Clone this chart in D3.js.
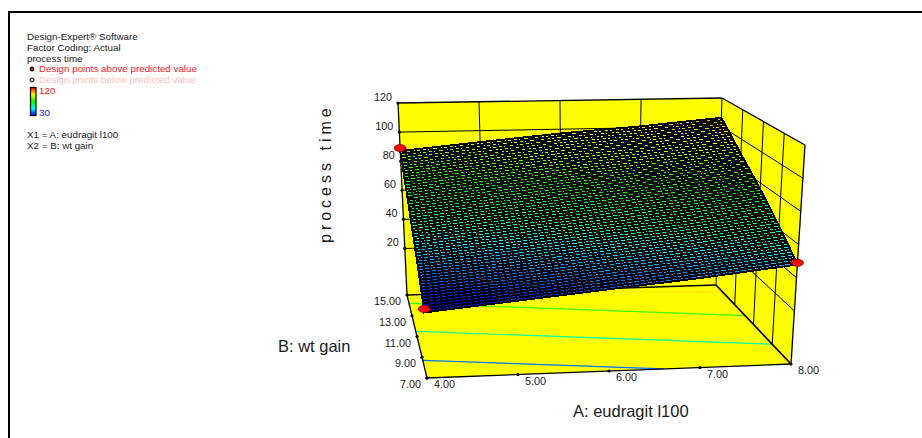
<!DOCTYPE html>
<html>
<head>
<meta charset="utf-8">
<script src="https://cdn.jsdelivr.net/npm/d3@7"></script>
<style>
	html, body { margin: 0; padding: 0; background: #fff; }
	svg { display: block; }
	text { font-family: "Liberation Sans", Arial, sans-serif; fill: #1a1a1a; }
</style>
</head>
<body>
<svg id="chart" width="922" height="438"></svg>
<script>
// factor levels and response ticks
const aTicks = [4, 5, 6, 7, 8];
const bTicks = [7, 9, 11, 13, 15];
const zTicks = [20, 40, 60, 80, 100, 120];

// process time, rows = wt gain, columns = eudragit l100
const surfaceValues = [
	[27, 32, 37, 42, 48],
	[42, 46, 51, 56, 62],
	[56, 61, 66, 71, 76],
	[71, 76, 81, 85, 90],
	[87, 92, 97, 101, 106]
];

// design points visible on the surface [A, B, process time]
const designPoints = [[4, 15, 89], [8, 7, 49], [4, 7, 29]];

// contour lines on the floor of the cube
const contourLevels = [40, 60, 80, 100];
const contourLines = [
	[[4, 8.7], [6.6, 7]],
	[[4, 11.5], [8, 9]],
	[[4, 14.2], [8, 11.9]],
	[[6.5, 14.7], [8, 14.3]]
];

const headerLines = ["Design-Expert® Software", "Factor Coding: Actual", "process time"];
const factorLines = ["X1 = A: eudragit l100", "X2 = B: wt gain"];

const svg = d3.select("#chart");

// frame, only top and left are inside the window
svg.append("rect").attr("x", 9).attr("y", 12).attr("width", 1000).attr("height", 1000)
	.attr("fill", "none").attr("stroke", "#000").attr("stroke-width", 2);

// cube corners on screen, the axes are mapped between these
const floorCorners = { a4b7: [427, 378], a8b7: [791, 364], a4b15: [407, 295], a8b15: [716, 285] };
const topCorners = { a4b7: [418, 156], a8b7: [805, 145], a4b15: [398, 103], a8b15: [722, 98] };

const aScale = d3.scaleLinear().domain([4, 8]).range([0, 1]);
const bScale = d3.scaleLinear().domain([7, 15]).range([0, 1]);
const zScale = d3.scaleLinear().domain([-12, 120]).range([0, 1]);

function corner(set, u, v) {
	const front = d3.interpolate(set.a4b7, set.a8b7)(u);
	const back = d3.interpolate(set.a4b15, set.a8b15)(u);
	return d3.interpolate(front, back)(v);
}

function project(a, b, z) {
	const u = aScale(a), v = bScale(b);
	return d3.interpolate(corner(floorCorners, u, v), corner(topCorners, u, v))(zScale(z));
}

const colour = d3.scaleLinear()
	.domain([30, 52.5, 75, 97.5, 120])
	.range(["#0000ff", "#00ffff", "#00ff00", "#ffff00", "#ff0000"])
	.clamp(true);

const zMin = zScale.domain()[0], zMax = zScale.domain()[1];
const aMin = 4, aMax = 8, bMin = 7, bMax = 15;

// walls and floor
const walls = svg.append("g");
const wallPolys = [
	[project(aMin, bMax, zMin), project(aMax, bMax, zMin), project(aMax, bMax, zMax), project(aMin, bMax, zMax)],
	[project(aMax, bMax, zMin), project(aMax, bMin, zMin), project(aMax, bMin, zMax), project(aMax, bMax, zMax)],
	[project(aMin, bMin, zMin), project(aMax, bMin, zMin), project(aMax, bMax, zMin), project(aMin, bMax, zMin)]
];
walls.selectAll("polygon").data(wallPolys).join("polygon")
	.attr("points", d => d.join(" "))
	.attr("fill", "#ffff00");

function segment(g, p, q, w) {
	g.append("line")
		.attr("x1", p[0]).attr("y1", p[1]).attr("x2", q[0]).attr("y2", q[1])
		.attr("stroke", "#000").attr("stroke-width", w || 1);
}

// contours go under the grid
const line = d3.line().x(d => project(d[0], d[1], zMin)[0]).y(d => project(d[0], d[1], zMin)[1]);
walls.selectAll("path.contour").data(contourLines).join("path")
	.attr("class", "contour")
	.attr("d", line)
	.attr("fill", "none")
	.attr("stroke", (d, i) => colour(contourLevels[i]))
	.attr("stroke-width", 1.2);

// grid lines on the two walls
aTicks.slice(1, -1).forEach(a => segment(walls, project(a, bMax, zMin), project(a, bMax, zMax)));
bTicks.slice(1, -1).forEach(b => segment(walls, project(aMax, b, zMin), project(aMax, b, zMax)));
zTicks.slice(0, -1).forEach(z => {
	segment(walls, project(aMin, bMax, z), project(aMax, bMax, z));
	segment(walls, project(aMax, bMax, z), project(aMax, bMin, z));
});

// cube outline
segment(walls, project(aMin, bMax, zMax), project(aMax, bMax, zMax), 1.3);
segment(walls, project(aMax, bMax, zMax), project(aMax, bMin, zMax), 1.3);
segment(walls, project(aMax, bMin, zMax), project(aMax, bMin, zMin), 1.3);
segment(walls, project(aMin, bMax, zMax), project(aMin, bMax, zMin), 1.3);
segment(walls, project(aMin, bMax, zMin), project(aMin, bMin, zMin), 1.3);
segment(walls, project(aMin, bMin, zMin), project(aMax, bMin, zMin), 1.3);
segment(walls, project(aMin, bMax, zMin), project(aMax, bMax, zMin), 1.3);
segment(walls, project(aMax, bMax, zMin), project(aMax, bMin, zMin), 1.8);
segment(walls, project(aMax, bMax, zMin), project(aMax, bMax, zMax), 1);

// surface mesh, the value table is walked cell by cell
const meshA = 60, meshB = 58;
const aIndex = d3.scaleLinear().domain([aMin, aMax]).range([0, aTicks.length - 1]);
const bIndex = d3.scaleLinear().domain([bMin, bMax]).range([0, bTicks.length - 1]);

function surfaceZ(a, b) {
	const x = aIndex(a), y = bIndex(b);
	const i = Math.min(Math.floor(x), aTicks.length - 2), j = Math.min(Math.floor(y), bTicks.length - 2);
	const low = d3.interpolate(surfaceValues[j][i], surfaceValues[j][i + 1])(x - i);
	const high = d3.interpolate(surfaceValues[j + 1][i], surfaceValues[j + 1][i + 1])(x - i);
	return d3.interpolate(low, high)(y - j);
}

const cells = [];
const stepA = (aMax - aMin) / meshA, stepB = (bMax - bMin) / meshB;
for (let j = meshB - 1; j >= 0; j--) {
	for (let i = 0; i < meshA; i++) {
		const a0 = aMin + i * stepA, b0 = bMin + j * stepB;
		const a1 = a0 + stepA, b1 = b0 + stepB;
		cells.push({
			points: [[a0, b0], [a1, b0], [a1, b1], [a0, b1]].map(d => project(d[0], d[1], surfaceZ(d[0], d[1]))),
			z: surfaceZ((a0 + a1) / 2, (b0 + b1) / 2)
		});
	}
}
svg.append("g").attr("shape-rendering", "crispEdges")
	.selectAll("polygon").data(cells).join("polygon")
	.attr("points", d => d.points.join(" "))
	.attr("fill", d => colour(d.z))
	.attr("stroke", "#000")
	.attr("stroke-width", 2);

// design points
svg.append("g").selectAll("ellipse").data(designPoints).join("ellipse")
	.attr("cx", d => project(d[0], d[1], d[2])[0])
	.attr("cy", d => project(d[0], d[1], d[2])[1])
	.attr("rx", 6).attr("ry", 3.5)
	.attr("fill", "#ff0000").attr("stroke", "#8a0000").attr("stroke-width", 0.8);

// tick marks and labels
const ticks = svg.append("g");
function tickMark(p) {
	ticks.append("circle").attr("cx", p[0]).attr("cy", p[1]).attr("r", 1.6).attr("fill", "#000");
}
function tickLabel(p, dx, dy, str, anchor) {
	ticks.append("text").attr("x", p[0] + dx).attr("y", p[1] + dy)
		.attr("text-anchor", anchor).attr("font-size", 10.8).text(str);
}
zTicks.forEach(z => {
	const p = project(aMin, bMax, z);
	tickMark(p);
	tickLabel(p, -6, -2, d3.format("d")(z), "end");
});
bTicks.forEach(b => {
	const p = project(aMin, b, zMin);
	tickMark(p);
	tickLabel(p, -6, 10, d3.format(".2f")(b), "end");
});
aTicks.forEach(a => {
	const p = project(a, bMin, zMin);
	tickMark(p);
	tickLabel(p, 7, 10, d3.format(".2f")(a), "start");
});

// axis titles
svg.append("text").attr("x", 573).attr("y", 417).attr("font-size", 16.5).text("A: eudragit l100");
svg.append("text").attr("x", 278).attr("y", 352).attr("font-size", 16.5).text("B: wt gain");
svg.append("text")
	.attr("transform", "translate(331,243) rotate(-90)")
	.attr("font-size", 16)
	.attr("letter-spacing", 4)
	.text("process time");

// notes at top left
const notes = svg.append("g").attr("font-size", 9.8);
notes.selectAll("text.head").data(headerLines).join("text")
	.attr("class", "head").attr("x", 27).attr("y", (d, i) => 40 + i * 11).text(d => d);
notes.selectAll("text.factor").data(factorLines).join("text")
	.attr("class", "factor").attr("x", 27).attr("y", (d, i) => 138 + i * 11).text(d => d);
notes.append("text").attr("x", 39).attr("y", 72).style("fill", "#ff2020").text("Design points above predicted value");
notes.append("text").attr("x", 39).attr("y", 83).style("fill", "#ffc0c0").text("Design points below predicted value");
notes.append("text").attr("x", 39).attr("y", 94).style("fill", "#ff2020").text("120");
notes.append("text").attr("x", 39).attr("y", 116).style("fill", "#2020ff").text("30");

notes.append("circle").attr("cx", 32).attr("cy", 69).attr("r", 2).attr("fill", "#c00000").attr("stroke", "#000");
notes.append("circle").attr("cx", 32).attr("cy", 80).attr("r", 2).attr("fill", "#ffc0c0").attr("stroke", "#000");

// colour bar
const defs = svg.append("defs");
const grad = defs.append("linearGradient").attr("id", "bar").attr("x1", 0).attr("y1", 1).attr("x2", 0).attr("y2", 0);
colour.domain().forEach(v => {
	grad.append("stop").attr("offset", (v - 30) / 90).attr("stop-color", colour(v));
});
notes.append("rect").attr("x", 30.5).attr("y", 87.5).attr("width", 5.5).attr("height", 28)
	.attr("fill", "url(#bar)").attr("stroke", "#111").attr("stroke-width", 1.3);
</script>
</body>
</html>
